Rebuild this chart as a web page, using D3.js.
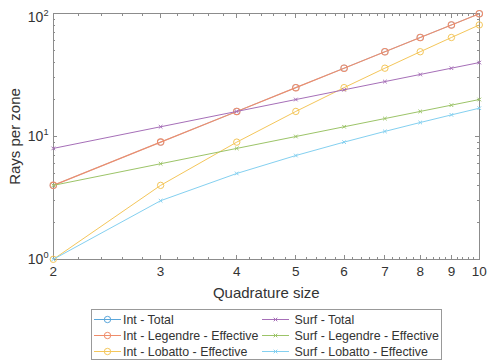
<!DOCTYPE html>
<html>
<head>
<meta charset="utf-8">
<script src="https://cdn.jsdelivr.net/npm/d3@7"></script>
<style>
  html, body { margin: 0; padding: 0; background: #fff; }
  svg { display: block; }
</style>
</head>
<body>
<svg id="chart" width="489" height="362" font-family="'Liberation Sans', Arial, Helvetica, sans-serif"></svg>
<script>
// Quadrature sizes on the x axis
const quadSizes = [2, 3, 4, 5, 6, 7, 8, 9, 10];

// Rays per zone for each quadrature variant
const intTotal        = [4, 9, 16, 25, 36, 49, 64, 81, 100];
const intLegendreEff  = [4, 9, 16, 25, 36, 49, 64, 81, 100];
const intLobattoEff   = [1, 4, 9, 16, 25, 36, 49, 64, 81];
const surfTotal       = [8, 12, 16, 20, 24, 28, 32, 36, 40];
const surfLegendreEff = [4, 6, 8, 10, 12, 14, 16, 18, 20];
const surfLobattoEff  = [1, 3, 5, 7, 9, 11, 13, 15, 17];

const seriesNames = [
  "Int - Total", "Int - Legendre - Effective", "Int - Lobatto - Effective",
  "Surf - Total", "Surf - Legendre - Effective", "Surf - Lobatto - Effective"
];
const seriesValues = [intTotal, intLegendreEff, intLobattoEff, surfTotal, surfLegendreEff, surfLobattoEff];
const seriesMarkers = ["circle", "circle", "circle", "cross", "cross", "cross"];
const seriesColors = ["#5aa6da", "#ef8c6a", "#f4c65a", "#a66fb8", "#9cc468", "#84d0f0"];
// the total interior count runs underneath the Legendre curve, so keep it thin
const seriesWidths = [0.6, 1.1, 1, 1, 1, 1];

const xTickValues = [2, 3, 4, 5, 6, 7, 8, 9, 10];
const yTickExponents = [0, 1, 2];

const svg = d3.select("#chart");
const m = { left: 53.3, right: 479.3, top: 13.7, bottom: 259.3 };

const x = d3.scaleLog().domain([2, 10]).range([m.left, m.right]);
const y = d3.scaleLog().domain([1, 100]).range([m.bottom, m.top]);

const axisColor = "#8c8c8c";
const textColor = "#333";

// minor ticks: every 0.2 along x, 2..9 per decade along y
const xMinor = d3.range(20, 101, 2).map(v => v / 10).filter(v => !Number.isInteger(v));
const yMinor = [];
[1, 10].forEach(d => { for (let k = 2; k <= 9; k++) yMinor.push(d * k); });

const ticks = svg.append("g").attr("stroke", axisColor).attr("stroke-width", 1).attr("shape-rendering", "crispEdges");
function tickLines(vals, len, horizontal) {
  vals.forEach(v => {
    if (horizontal) {
      const px = x(v);
      ticks.append("line").attr("x1", px).attr("x2", px).attr("y1", m.bottom).attr("y2", m.bottom - len);
      ticks.append("line").attr("x1", px).attr("x2", px).attr("y1", m.top).attr("y2", m.top + len);
    } else {
      const py = y(v);
      ticks.append("line").attr("y1", py).attr("y2", py).attr("x1", m.left).attr("x2", m.left + len);
      ticks.append("line").attr("y1", py).attr("y2", py).attr("x1", m.right).attr("x2", m.right - len);
    }
  });
}
tickLines(xTickValues, 4, true);
tickLines(xMinor, 2, true);
tickLines(yTickExponents.map(e => Math.pow(10, e)), 4, false);
tickLines(yMinor, 2, false);

// box
svg.append("rect")
  .attr("x", m.left).attr("y", m.top)
  .attr("width", m.right - m.left).attr("height", m.bottom - m.top)
  .attr("fill", "none").attr("stroke", axisColor).attr("stroke-width", 1)
  .attr("shape-rendering", "crispEdges");

// x tick labels
svg.append("g").selectAll("text").data(xTickValues).join("text")
  .attr("x", d => x(d)).attr("y", m.bottom + 16.5)
  .attr("text-anchor", "middle").attr("font-size", 13.5).attr("fill", textColor)
  .text(d => d);

// y tick labels as 10^n
const yl = svg.append("g").selectAll("text").data(yTickExponents).join("text")
  .attr("x", 48.5)
  .attr("y", d => Math.max(y(Math.pow(10, d)) + 4.5, 22))
  .attr("text-anchor", "end").attr("font-size", 14).attr("fill", textColor);
yl.append("tspan").text("10");
yl.append("tspan").attr("font-size", 9.2).attr("dy", -6).text(d => d);

// axis titles
svg.append("text")
  .attr("x", (m.left + m.right) / 2).attr("y", 298)
  .attr("text-anchor", "middle").attr("font-size", 15).attr("fill", textColor)
  .text("Quadrature size");
svg.append("text")
  .attr("transform", `translate(20,${(m.top + m.bottom) / 2}) rotate(-90)`)
  .attr("text-anchor", "middle").attr("font-size", 15).attr("fill", textColor)
  .text("Rays per zone");

// marker drawing
function drawMarker(g, type, cx, cy, color, w) {
  if (type === "circle") {
    g.append("circle").attr("cx", cx).attr("cy", cy).attr("r", 3.2)
      .attr("fill", "none").attr("stroke", color).attr("stroke-width", w);
  } else {
    const s = 1.8;
    g.append("path")
      .attr("d", `M${cx - s},${cy - s}L${cx + s},${cy + s}M${cx - s},${cy + s}L${cx + s},${cy - s}`)
      .attr("stroke", color).attr("stroke-width", w).attr("fill", "none");
  }
}

// series
const line = d3.line().x(d => x(d[0])).y(d => y(d[1]));
seriesValues.forEach((vals, i) => {
  const pts = quadSizes.map((q, j) => [q, vals[j]]);
  const g = svg.append("g");
  g.append("path").datum(pts).attr("d", line)
    .attr("fill", "none").attr("stroke", seriesColors[i]).attr("stroke-width", seriesWidths[i]);
  pts.forEach(p => drawMarker(g, seriesMarkers[i], x(p[0]), y(p[1]), seriesColors[i], seriesWidths[i]));
});

// legend
const lg = svg.append("g");
lg.append("rect").attr("x", 91.5).attr("y", 309.5).attr("width", 349.5).attr("height", 49.5)
  .attr("fill", "#fff").attr("stroke", "#999").attr("stroke-width", 1).attr("shape-rendering", "crispEdges");
const colX = [94, 262];
const colTextX = [123, 294.5];
const rowY = [319.5, 335.5, 351.5];
seriesNames.forEach((name, i) => {
  const c = Math.floor(i / 3);
  const cx = colX[c], cy = rowY[i % 3];
  lg.append("line").attr("x1", cx).attr("x2", cx + 27).attr("y1", cy).attr("y2", cy)
    .attr("stroke", seriesColors[i]).attr("stroke-width", 1);
  drawMarker(lg, seriesMarkers[i], cx + 13.5, cy, seriesColors[i], 1);
  lg.append("text").attr("x", colTextX[c]).attr("y", cy + 4.5)
    .attr("font-size", 12.4).attr("fill", textColor).text(name);
});
</script>
</body>
</html>
